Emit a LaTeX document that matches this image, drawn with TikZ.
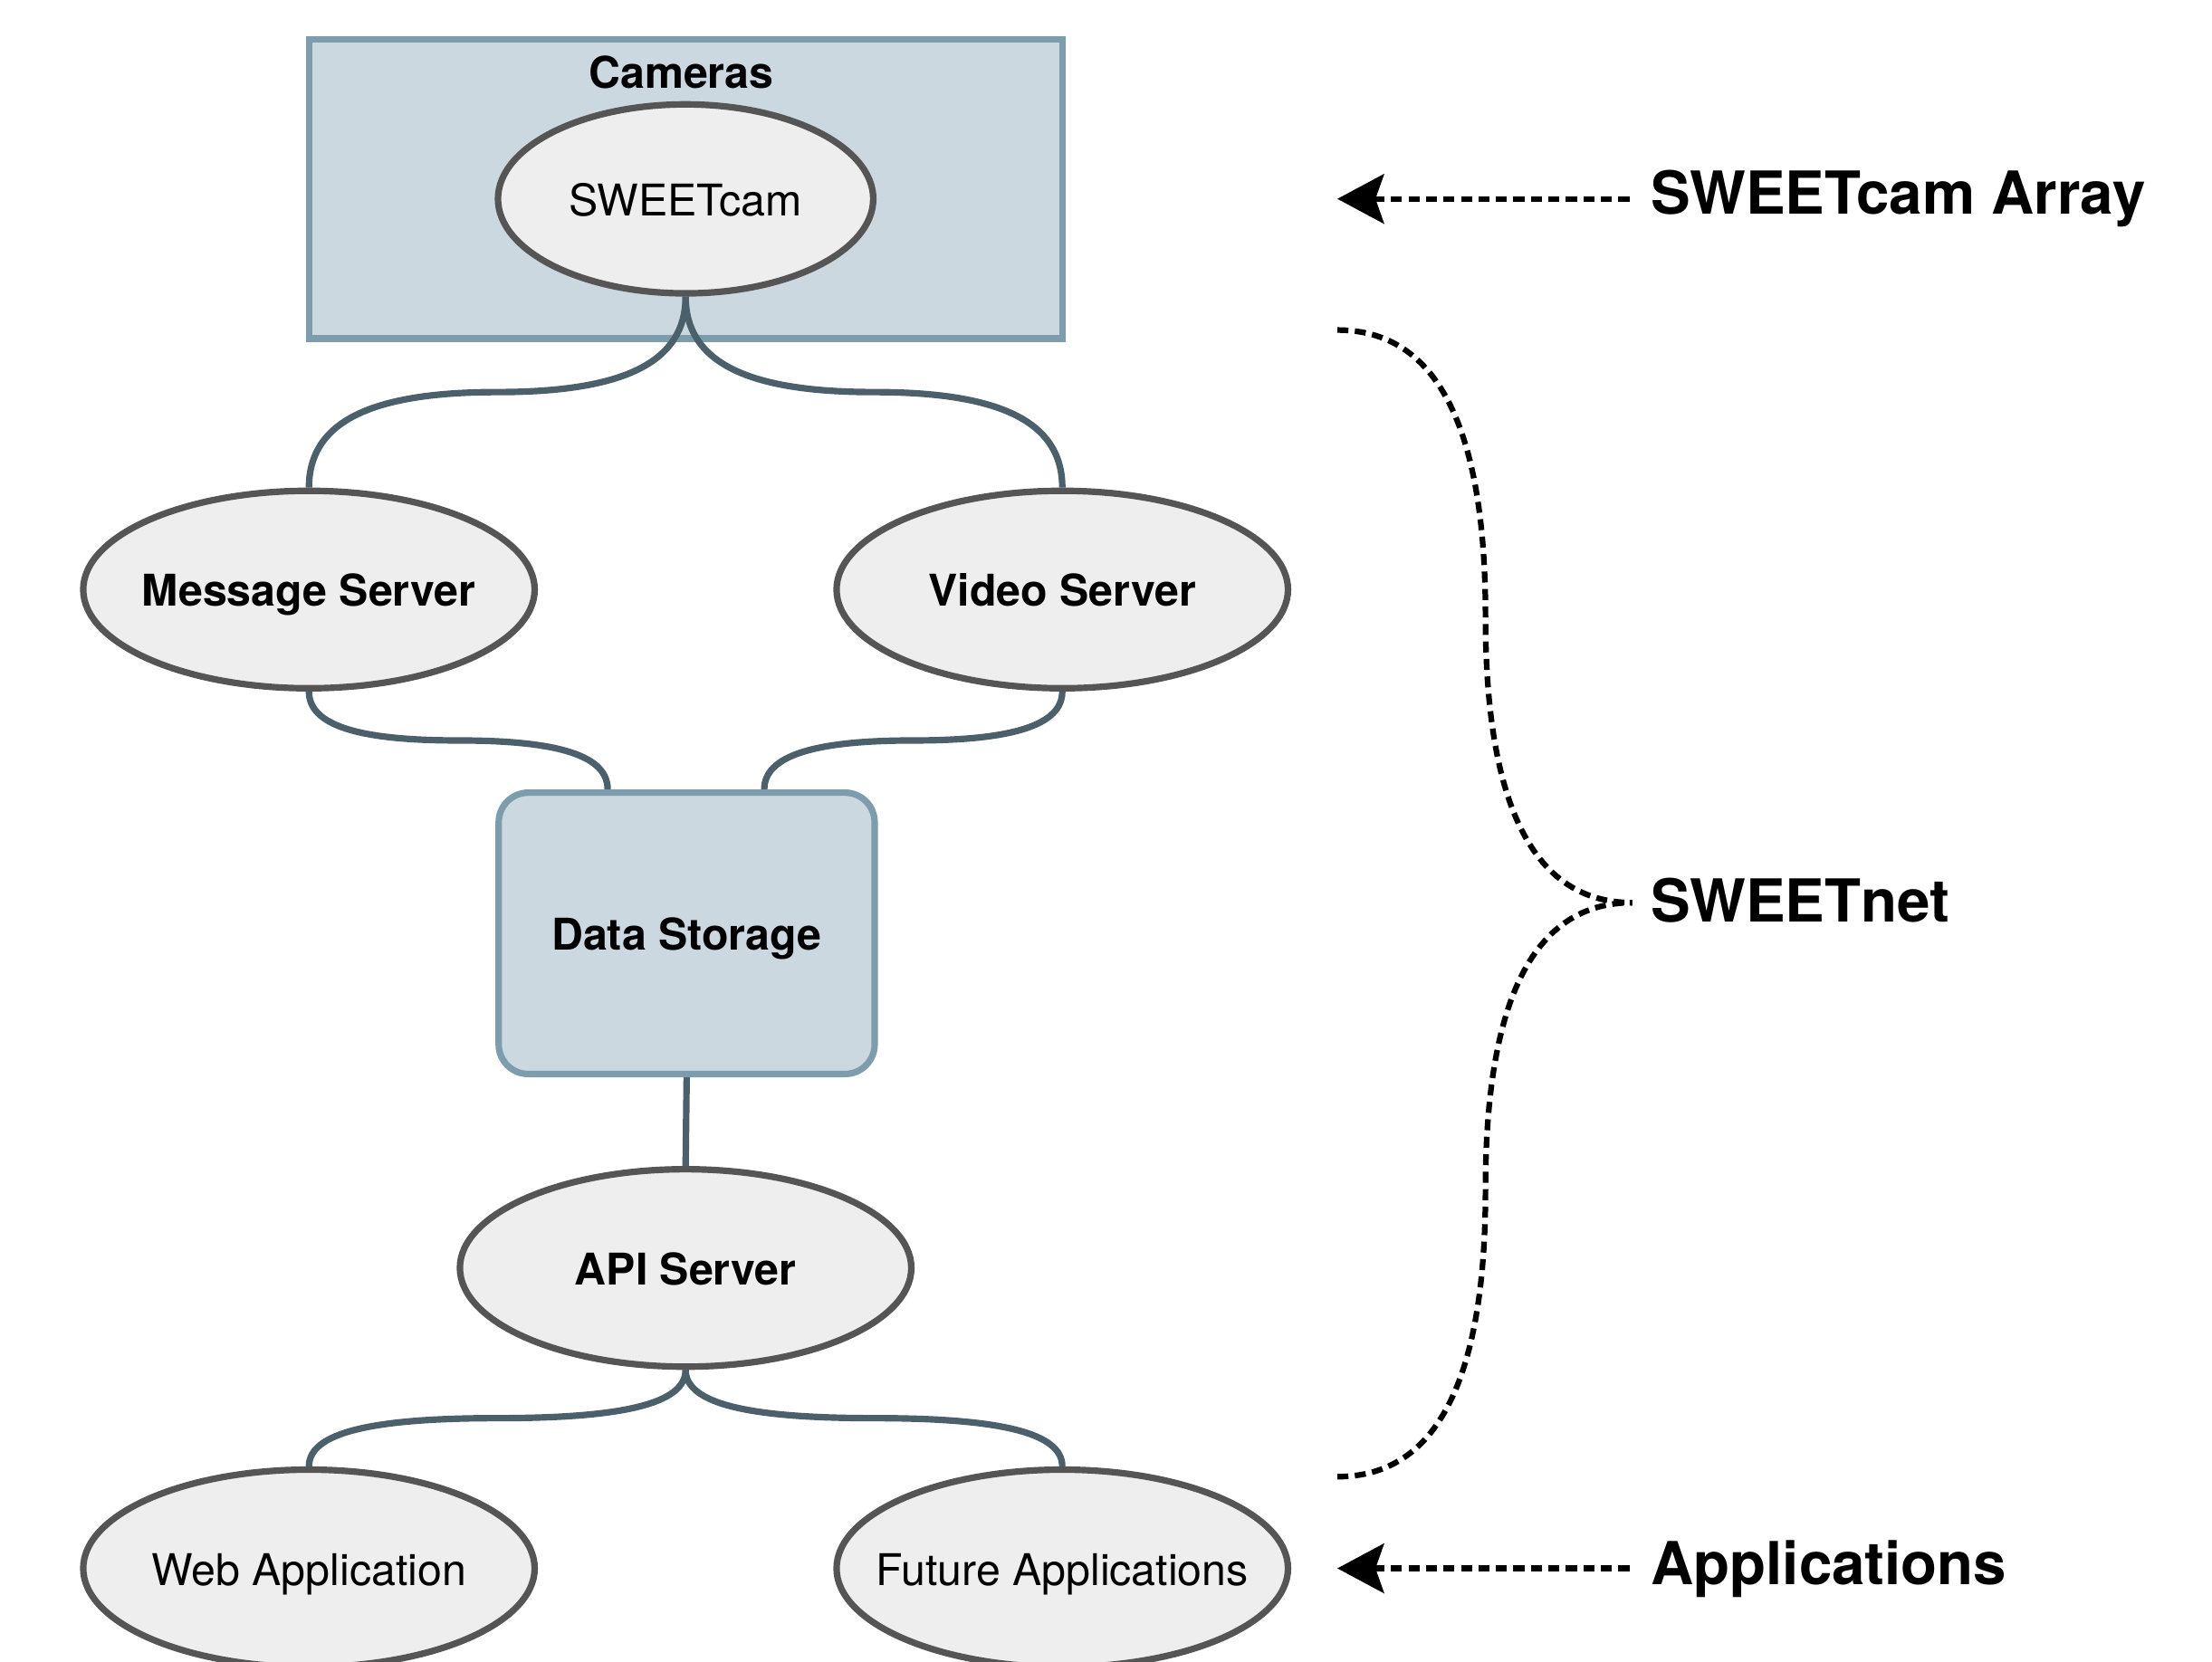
\documentclass[tikz,border=0pt]{standalone}
\usepackage{fontspec}
\setmainfont{TeX Gyre Heros}
\usetikzlibrary{arrows.meta,shapes.geometric,calc}
\definecolor{ellfill}{HTML}{EEEEEE}
\definecolor{ellline}{HTML}{555555}
\definecolor{boxfill}{HTML}{CBD8DF}
\definecolor{boxline}{HTML}{7D9DAD}
\definecolor{connline}{HTML}{4B606B}
\pgfdeclarelayer{bg}\pgfdeclarelayer{conn}\pgfsetlayers{bg,conn,main}
\newcommand{\ctr}[1]{\makebox[0pt]{#1}}
\begin{document}
\begin{tikzpicture}[x=0.5pt,y=-0.5pt,
  ell/.style={ellipse, draw=ellline, fill=ellfill, line width=2.3pt, minimum width=160pt, minimum height=70pt, inner sep=0pt, text height=12pt, text depth=0pt, font=\fontsize{15.5}{18}\selectfont},
  boldell/.style={ell, font=\fontsize{15.5}{18}\selectfont\bfseries},
  conn/.style={draw=connline, line width=2.3pt},
  dotline/.style={draw=black, line width=2pt, dash pattern=on 3.9pt off 2.3pt},
  dotarrow/.style={dotline, -{Stealth[length=16.5pt,width=17.5pt,inset=3pt]}},
  biglbl/.style={font=\fontsize{21}{25}\selectfont\bfseries, inner sep=0pt, anchor=base west}]
\useasboundingbox (0,0) rectangle (1568,1178);

% container
\begin{pgfonlayer}{bg}
\node[draw=boxline, fill=boxfill, line width=2.3pt, minimum width=267pt, minimum height=106pt, inner sep=0pt] (cams) at (486,134) {};
\end{pgfonlayer}
\node[font=\fontsize{15.5}{18}\selectfont\bfseries] (camlbl) at (483,51) {Cameras};

% nodes
\node[ell, minimum width=133pt, minimum height=67pt] (sc) at (486,141) {\ctr{SWEETcam}};
\node[boldell] (ms) at (219,418) {\ctr{Message Server}};
\node[boldell] (vs) at (753,418) {\ctr{Video Server}};
\node[draw=boxline, fill=boxfill, line width=2.3pt, rounded corners=10.5pt, minimum width=133.25pt, minimum height=99.75pt, inner sep=0pt, text height=12pt, text depth=0pt, font=\fontsize{15.5}{18}\selectfont\bfseries] (ds) at (486.75,661.75) {Data Storage};
\node[boldell] (api) at (486,899) {\ctr{API Server}};
\node[ell] (web) at (219,1112) {\ctr{Web Application}};
\node[ell] (fut) at (753,1112) {\ctr{Future Applications}};

% connectors
\begin{pgfonlayer}{conn}
\coordinate (m1) at ($(sc.south)!0.5!(ms.north)$);
\draw[conn] (sc.south) .. controls +(0,47) and +(89,0) .. (m1) .. controls +(-89,0) and +(0,-47) .. (ms.north);
\coordinate (m2) at ($(sc.south)!0.5!(vs.north)$);
\draw[conn] (sc.south) .. controls +(0,47) and +(-89,0) .. (m2) .. controls +(89,0) and +(0,-47) .. (vs.north);
\coordinate (dsl) at ($(ds.north)+(-56,0)$);
\coordinate (dsr) at ($(ds.north)+(55,0)$);
\coordinate (m3) at ($(ms.south)!0.5!(dsl)$);
\draw[conn] (ms.south) .. controls +(0,24) and +(-71,0) .. (m3) .. controls +(71,0) and +(0,-24) .. (dsl);
\coordinate (m4) at ($(vs.south)!0.5!(dsr)$);
\draw[conn] (vs.south) .. controls +(0,24) and +(70,0) .. (m4) .. controls +(-70,0) and +(0,-24) .. (dsr);
\draw[conn] (ds.south) -- (api.north);
\coordinate (m5) at ($(api.south)!0.5!(web.north)$);
\draw[conn] (api.south) .. controls +(0,24) and +(89,0) .. (m5) .. controls +(-89,0) and +(0,-24) .. (web.north);
\coordinate (m6) at ($(api.south)!0.5!(fut.north)$);
\draw[conn] (api.south) .. controls +(0,24) and +(-89,0) .. (m6) .. controls +(89,0) and +(0,-24) .. (fut.north);
\end{pgfonlayer}

% labels on the right
\node[biglbl] (lblA) at (1170,152) {SWEETcam Array};
\node[biglbl] (lblN) at (1170,653.6) {SWEETnet};
\node[biglbl] (lblP) at (1170,1123.7) {Applications};

\coordinate (aAs) at (1155,141);
\coordinate (aAe) at (948,141);
\draw[dotarrow] (aAs) -- (aAe);
\coordinate (aPs) at (1155,1112);
\coordinate (aPe) at (948,1112);
\draw[dotarrow] (aPs) -- (aPe);

\coordinate (bTop) at (948,234);
\coordinate (bBot) at (948,1047);
\coordinate (bEnd) at (1157,640);
\coordinate (bM1) at (1053,437);
\coordinate (bM2) at (1053,843.5);
\draw[dotline] (bTop) .. controls (1018,234) and (1053,301.7) .. (bM1) .. controls (1053,572.3) and (1087.7,640) .. (bEnd);
\draw[dotline] (bBot) .. controls (1018,1047) and (1053,979.2) .. (bM2) .. controls (1053,707.8) and (1087.7,640) .. (bEnd);
\end{tikzpicture}
\end{document}
